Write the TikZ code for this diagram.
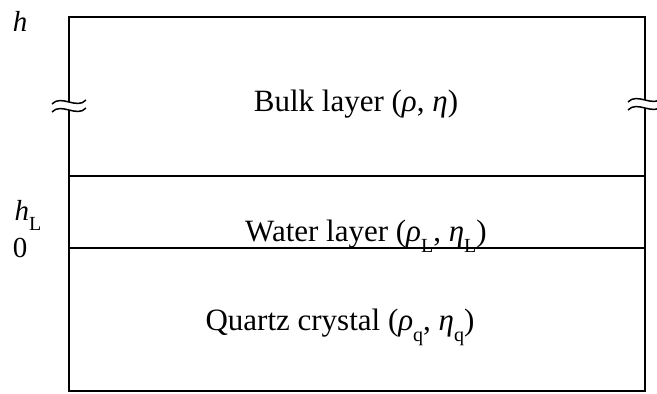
\documentclass[tikz,border=0pt]{standalone}
\usepackage{fontspec}
\setmainfont{Liberation Serif}
\newcommand{\lowsub}[1]{\raisebox{-0.36em}{\fontsize{20}{20}\selectfont #1}}
\newcommand{\brkmark}[1]{%
  \begin{scope}[shift={#1}]
    \fill[white] (-17,2) .. controls (-8,-8) and (8,8) .. (17,-2) -- (17,6) .. controls (8,16) and (-8,0) .. (-17,10) -- cycle;
    \draw[wave] (-17,2) .. controls (-8,-8) and (8,8) .. (17,-2);
    \draw[wave] (-17,10) .. controls (-8,0) and (8,16) .. (17,6);
  \end{scope}}
\begin{document}
\begin{tikzpicture}[x=1pt,y=-1pt,
  frame/.style={line width=1.6pt, line cap=rect},
  wave/.style={line width=1.5pt},
  lbl/.style={font=\fontsize{31}{36}\selectfont, inner sep=0pt, anchor=base},
  axlbl/.style={font=\fontsize{29}{34}\selectfont, inner sep=0pt, anchor=base}]
\useasboundingbox (0,0) rectangle (657,394);
\coordinate (tl) at (69,17);
\coordinate (tr) at (645,17);
\coordinate (bl) at (69,391);
\coordinate (br) at (645,391);
\coordinate (wl) at (69,176);
\coordinate (wr) at (645,176);
\coordinate (ql) at (69,248);
\coordinate (qr) at (645,248);
\draw[frame] (tl) -- (tr) -- (br) -- (bl) -- cycle;
\draw[frame] (wl) -- (wr);
\draw[frame] (ql) -- (qr);
\brkmark{(69,102)}
\brkmark{(645,100)}
\node[lbl] (bulk) at (356,111) {Bulk layer (\textit{ρ}, \textit{η})};
\node[lbl] (water) at (366,241) {Water layer (\textit{ρ}\lowsub{L}, \textit{η}\lowsub{L})};
\node[lbl] (quartz) at (340,330) {Quartz crystal (\textit{ρ}\lowsub{q}, \textit{η}\lowsub{q})};
\node[axlbl] (h) at (20,31) {\textit{h}};
\node[axlbl] (hL) at (28,220) {\textit{h}\lowsub{L}};
\node[axlbl] (zero) at (20,257) {0};
\end{tikzpicture}
\end{document}
